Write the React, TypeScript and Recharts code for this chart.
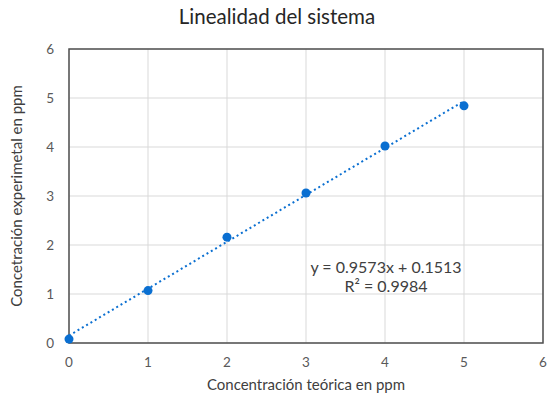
import { ScatterChart, Scatter, XAxis, YAxis, ZAxis, CartesianGrid, ReferenceArea, Label } from 'recharts';

// Measured points (teórica vs experimental)
const teorica = [0, 1, 2, 3, 4, 5];
const experimental = [0.08, 1.07, 2.16, 3.06, 4.02, 4.84];
const axisTicks = [0, 1, 2, 3, 4, 5, 6];

// Excel linear trendline
const slope = 0.9573;
const intercept = 0.1513;
const r2 = 0.9984;

const FONT = 'Lato, "Open Sans", sans-serif';
const BLUE = '#0A6FD1';

const points = teorica.map((x, i) => ({ x, y: experimental[i] }));
const trend = [teorica[0], teorica[teorica.length - 1]].map((x) => ({ x, y: slope * x + intercept }));

export default function App() {
  return (
    <div style={{ position: 'relative', width: 547, height: 395, background: '#fff', fontFamily: FONT }}>
      <style>{'body{margin:0}'}</style>
      <div
        style={{
          position: 'absolute',
          top: 4,
          left: 0,
          width: 554,
          textAlign: 'center',
          fontSize: 20.5,
          lineHeight: '24px',
          color: '#262626',
        }}
      >
        Linealidad del sistema
      </div>
      <ScatterChart width={547} height={395} margin={{ top: 49, right: 4, bottom: 0, left: 0 }}>
        <CartesianGrid stroke="#D9D9D9" strokeWidth={1} />
        <XAxis
          type="number"
          dataKey="x"
          domain={[0, 6]}
          ticks={axisTicks}
          height={52}
          tickSize={0}
          tickMargin={14}
          axisLine={false}
          tick={{ fill: '#595959', fontSize: 13.5, fontFamily: FONT }}
        >
          <Label
            value="Concentración teórica en ppm"
            position="insideBottom"
            offset={5}
            style={{ fill: '#404040', fontSize: 15, fontFamily: FONT }}
          />
        </XAxis>
        <YAxis
          type="number"
          dataKey="y"
          domain={[0, 6]}
          ticks={axisTicks}
          width={69}
          tickSize={0}
          tickMargin={15}
          axisLine={false}
          tick={{ fill: '#595959', fontSize: 13.5, fontFamily: FONT }}
        >
          <Label
            value="Concetración experimetal en ppm"
            angle={-90}
            position="insideLeft"
            offset={17}
            style={{ fill: '#404040', fontSize: 15, fontFamily: FONT, textAnchor: 'middle' }}
          />
        </YAxis>
        <ZAxis range={[90, 90]} />
        <ReferenceArea x1={0} x2={6} y1={0} y2={6} fill="none" stroke="#505050" strokeWidth={1.5} ifOverflow="visible" />
        <Scatter
          data={trend}
          line={{ stroke: BLUE, strokeWidth: 2, strokeDasharray: '2 3' }}
          shape={() => null}
          isAnimationActive={false}
        />
        <Scatter data={points} fill={BLUE} shape="circle" isAnimationActive={false} />
      </ScatterChart>
      <div
        style={{
          position: 'absolute',
          left: 286,
          top: 257,
          width: 200,
          textAlign: 'center',
          fontSize: 16,
          lineHeight: '19px',
          color: '#404040',
        }}
      >
        <div>y = {slope}x + {intercept}</div>
        <div>R² = {r2}</div>
      </div>
    </div>
  );
}
